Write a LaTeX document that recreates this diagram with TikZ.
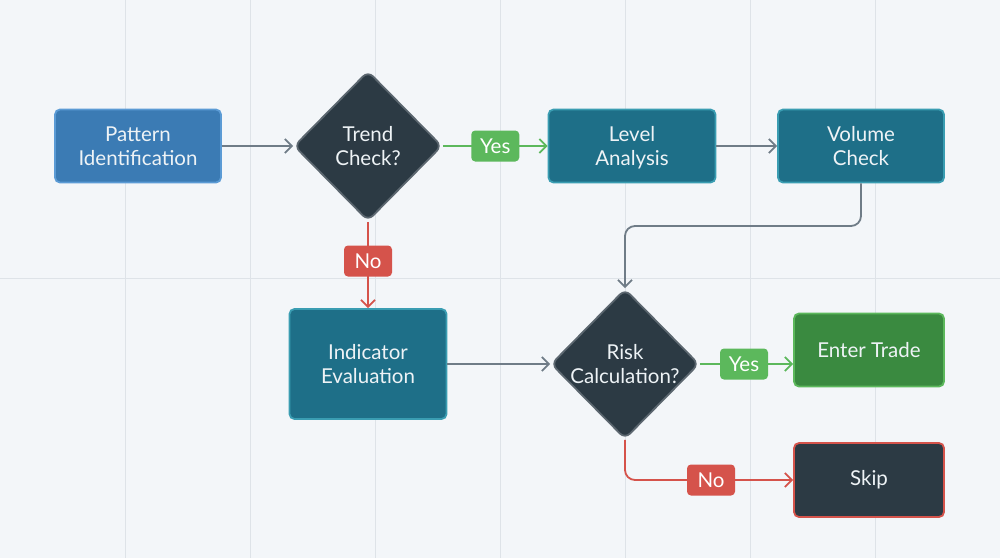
\documentclass[tikz,border=0pt]{standalone}
\usepackage{fontspec}
\setmainfont{Lato}
\usetikzlibrary{shapes.geometric,arrows.meta,calc}
\definecolor{bg}{HTML}{F3F6F9}
\definecolor{gridc}{HTML}{DEE3E8}
\definecolor{bluef}{HTML}{3B7BB4}
\definecolor{blueb}{HTML}{5B9BD5}
\definecolor{tealf}{HTML}{1E6F88}
\definecolor{tealb}{HTML}{3A9DB2}
\definecolor{darkf}{HTML}{2C3A44}
\definecolor{darkb}{HTML}{5C6770}
\definecolor{greenf}{HTML}{3A8A40}
\definecolor{greenb}{HTML}{5CB85C}
\definecolor{redc}{HTML}{D5534B}
\definecolor{grayc}{HTML}{6F7C87}
\definecolor{txt}{HTML}{EEF3F6}
\tikzset{
  fnt/.style={font=\fontsize{20.5}{23.5}\selectfont},
  box/.style={rectangle, rounded corners=5pt, line width=1.8pt, text=txt,
    fnt, align=center, inner sep=0pt},
  bluebox/.style={box, fill=bluef, draw=blueb, minimum width=166pt, minimum height=73pt},
  tealbox/.style={box, fill=tealf, draw=tealb, minimum width=167pt, minimum height=73pt},
  dia/.style={diamond, aspect=1, fill=darkf, draw=darkb, line width=1.8pt,
    rounded corners=7pt, minimum width=148pt, minimum height=150pt, inner sep=0pt},
  diatext/.style={text=txt, fnt, align=center},
  lbl/.style={rectangle, rounded corners=4pt, text=white, inner sep=0pt,
    minimum width=48pt, minimum height=31pt, fnt},
  yeslbl/.style={lbl, fill=greenb},
  nolbl/.style={lbl, fill=redc},
  conn/.style={line width=1.8pt, -{Straight Barb[length=7pt,width=14pt,line width=1.8pt]}},
  grayline/.style={conn, draw=grayc},
  greenline/.style={conn, draw=greenb},
  redline/.style={conn, draw=redc},
}
\begin{document}
\begin{tikzpicture}[x=1pt,y=-1pt]
\fill[bg] (0,0) rectangle (1000,558);
\useasboundingbox (0,0) rectangle (1000,558);
\foreach \gx in {125,250,375,500,625,750,875}
  \draw[gridc, line width=1pt] (\gx,0) -- (\gx,558);
\draw[gridc, line width=1pt] (0,278) -- (1000,278);

\node[bluebox] (pattern) at (138,146) {Pattern\\Identification};
\node[dia] (trend) at (368,146) {};
\node[diatext] (trendt) at (trend.center) {Trend\\Check?};
\node[tealbox] (level) at (632,146) {Level\\\smash{Analysis}};
\node[tealbox, minimum width=166pt] (volume) at (861,146) {Volume\\Check};
\node[tealbox, minimum width=157pt, minimum height=110pt] (indicator) at (368,364) {Indicator\\Evaluation};
\node[dia] (risk) at (625,364) {};
\node[diatext] (riskt) at (risk.center) {Risk\\Calculation?};
\node[box, fill=greenf, draw=greenb, minimum width=150pt, minimum height=73pt] (enter) at (869,350) {Enter Trade};
\node[box, fill=darkf, draw=redc, minimum width=150pt, minimum height=74pt] (skip) at (869,480) {Skip};

\draw[grayline] (pattern.east) -- (trend.west);
\draw[greenline] (trend.east) -- (level.west);
\node[yeslbl] (yes1) at ($(trend.east)!0.5!(level.west)$) {Yes};
\draw[grayline] (level.east) -- (volume.west);
\coordinate (vturn) at (861,226);
\draw[grayline, rounded corners=10pt] (volume.south) -- (vturn) -| (risk.north);
\draw[redline] (trend.south) -- (indicator.north);
\node[nolbl] (no1) at (368,261) {No};
\draw[grayline] (indicator.east) -- (risk.west);
\coordinate (enterin) at (risk.east -| enter.west);
\draw[greenline] (risk.east) -- (enterin);
\node[yeslbl] (yes2) at (744,364) {Yes};
\draw[redline, rounded corners=10pt] (risk.south) |- (skip.west);
\node[nolbl] (no2) at (711,480) {No};
\end{tikzpicture}
\end{document}
